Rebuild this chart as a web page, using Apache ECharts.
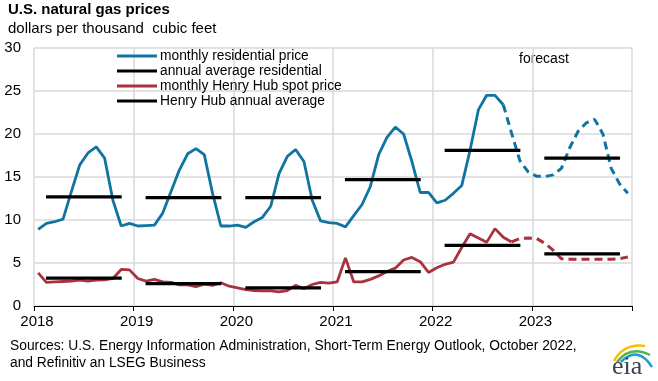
<!DOCTYPE html>
<html><head><meta charset="utf-8">
<script src="https://cdn.jsdelivr.net/npm/echarts@6/dist/echarts.min.js"></script>
<style>html,body{margin:0;padding:0;background:#fff}#c{width:658px;height:381px}</style>
</head><body><div id="c"></div>
<script>
// ---- data ----
const startYear = 2018;
const yearTicks = [2018, 2019, 2020, 2021, 2022, 2023, 2024];
// monthly residential price, Jan 2018 - Dec 2023 (dollars per Mcf)
const residentialMonthly = [
  8.9, 9.6, 9.8, 10.1, 13.3, 16.4, 17.8, 18.5, 17.2, 12.3, 9.3, 9.6,
  9.3, 9.35, 9.4, 10.8, 13.3, 15.8, 17.7, 18.3, 17.6, 13.1, 9.3, 9.3,
  9.4, 9.15, 9.8, 10.3, 11.6, 15.4, 17.4, 18.2, 16.8, 12.3, 9.9, 9.7,
  9.6, 9.2, 10.5, 11.8, 13.9, 17.6, 19.6, 20.8, 20.0, 16.8, 13.2, 13.2,
  12.0, 12.3, 13.1, 14.0, 18.1, 22.8, 24.5, 24.5, 23.4, 20.1, 16.9, 15.6,
  15.1, 15.05, 15.25, 16.0, 18.4, 20.3, 21.3, 21.7, 20.0, 16.0, 14.2, 13.1
];
// monthly Henry Hub spot price, Jan 2018 - Dec 2023
const henryHubMonthly = [
  3.85, 2.75, 2.8, 2.85, 2.9, 3.0, 2.9, 3.0, 3.05, 3.2, 4.25, 4.2,
  3.2, 2.9, 3.1, 2.8, 2.75, 2.45, 2.45, 2.25, 2.55, 2.4, 2.7, 2.3,
  2.1, 1.9, 1.8, 1.75, 1.75, 1.65, 1.8, 2.4, 2.0, 2.5, 2.75, 2.65,
  2.8, 5.6, 2.8, 2.8, 3.1, 3.5, 4.0, 4.4, 5.35, 5.65, 5.15, 3.9,
  4.45, 4.85, 5.1, 6.8, 8.4, 7.9, 7.4, 9.0, 8.0, 7.45, 7.85, 7.9,
  7.85, 7.3, 6.5, 5.5, 5.45, 5.45, 5.45, 5.45, 5.45, 5.45, 5.5, 5.7
];
const residentialLastActual = 56; // index of last historical month
const henryHubLastActual = 57;
const avgYears = [2018, 2019, 2020, 2021, 2022, 2023];
const residentialAnnualAvg = [12.7, 12.6, 12.6, 14.7, 18.1, 17.2];
const henryHubAnnualAvg = [3.25, 2.6, 2.1, 4.0, 7.05, 6.05];
const yTicks = [0, 5, 10, 15, 20, 25, 30];

const names = ['monthly residential price', 'annual average residential', 'monthly Henry Hub spot price', 'Henry Hub annual average'];

// ---- build ----
const FONT = '"Liberation Sans", Arial, sans-serif';
const BLUE = '#0f74a1', RED = '#a8333f', BLACK = '#000';
function monthly(arr, from, to) {
  const out = [];
  for (let i = from; i <= to; i++) out.push([startYear + (i + 0.5) / 12, arr[i]]);
  return out;
}
function annual(vals) {
  const out = [];
  avgYears.forEach((y, i) => { out.push([y + 0.12, vals[i]]); out.push([y + 0.88, vals[i]]); out.push([y + 0.95, null]); });
  return out;
}
const lineBase = { type: 'line', symbol: 'none', showSymbol: false, silent: true, animation: false, connectNulls: false };

const chart = echarts.init(document.getElementById('c'), null, { renderer: 'canvas' });
chart.setOption({
  animation: false,
  textStyle: { fontFamily: FONT },
  title: [
    { text: 'U.S. natural gas prices', left: 8, top: 2, padding: 0, textStyle: { fontFamily: FONT, fontSize: 15, fontWeight: 'bold', color: '#000' } },
    { text: 'dollars per thousand  cubic feet', left: 8, top: 21, padding: 0, textStyle: { fontFamily: FONT, fontSize: 15, fontWeight: 'normal', color: '#000' } }
  ],
  grid: { left: 34, right: 26, top: 48, bottom: 75, containLabel: false },
  legend: {
    data: names.map((n, i) => ({ name: n, icon: 'path://M0,0 L40,0 L40,3 L0,3 Z', itemStyle: { color: [BLUE, BLACK, RED, BLACK][i] } })),
    orient: 'vertical', left: 117, top: 49, itemWidth: 40, itemHeight: 3.5, itemGap: 1, padding: 0,
    textStyle: { fontFamily: FONT, fontSize: 13.8, color: '#000', lineHeight: 14, padding: [0, 0, 0, -2] },
    selectedMode: false
  },
  xAxis: {
    type: 'value', min: 2018, max: 2024, interval: 1,
    axisLine: { show: true, lineStyle: { color: '#000', width: 1 } },
    axisTick: { show: true, length: 5, lineStyle: { color: '#000' } },
    axisLabel: { fontFamily: FONT, fontSize: 15, color: '#000', margin: 8, padding: [0, 0, 0, 6],
      formatter: v => (v === 2024 ? '' : String(v)) },
    splitLine: { show: true, lineStyle: { color: '#d9d9d9', width: 1.5 } }
  },
  yAxis: {
    type: 'value', min: yTicks[0], max: yTicks[yTicks.length - 1], interval: 5,
    axisLine: { show: false }, axisTick: { show: false },
    axisLabel: { fontFamily: FONT, fontSize: 15, color: '#000', margin: 13 },
    splitLine: { show: true, lineStyle: { color: '#d9d9d9', width: 1.5 } }
  },
  graphic: [
    { type: 'text', left: 519, top: 52, style: { text: 'forecast', font: '14px ' + FONT, fill: '#000' } },
    { type: 'text', left: 10, top: 338, style: { text: 'Sources: U.S. Energy Information Administration, Short-Term Energy Outlook, October 2022,\nand Refinitiv an LSEG Business', font: '13.8px ' + FONT, fill: '#000', lineHeight: 17 } },
    { type: 'bezierCurve', z: 1, shape: { x1: 614, y1: 361, cpx1: 624, cpy1: 343, x2: 645, y2: 346 }, style: { stroke: '#f2c200', lineWidth: 2.5, fill: null } },
    { type: 'bezierCurve', z: 1, shape: { x1: 617, y1: 362, cpx1: 630, cpy1: 345, x2: 650, y2: 355 }, style: { stroke: '#56b146', lineWidth: 2.5, fill: null } },
    { type: 'bezierCurve', z: 1, shape: { x1: 621, y1: 362, cpx1: 638, cpy1: 345, x2: 652, y2: 367 }, style: { stroke: '#1a9ad6', lineWidth: 2.5, fill: null } },
    { type: 'text', z: 10, left: 612, top: 354, style: { text: 'eia', font: '26px "Liberation Serif", "DejaVu Serif", serif', fill: '#3a4350' } }
  ],
  series: [
    Object.assign({}, lineBase, { name: names[0], data: monthly(residentialMonthly, 0, residentialLastActual), lineStyle: { color: BLUE, width: 2.8 }, itemStyle: { color: BLUE }, z: 2 }),
    Object.assign({}, lineBase, { name: 'res_fc', data: monthly(residentialMonthly, residentialLastActual, residentialMonthly.length - 1), lineStyle: { color: BLUE, width: 3, type: [8, 5] }, itemStyle: { color: BLUE }, z: 2 }),
    Object.assign({}, lineBase, { name: names[1], data: annual(residentialAnnualAvg), lineStyle: { color: BLACK, width: 3.2 }, itemStyle: { color: BLACK }, z: 3 }),
    Object.assign({}, lineBase, { name: names[2], data: monthly(henryHubMonthly, 0, henryHubLastActual), lineStyle: { color: RED, width: 2.8 }, itemStyle: { color: RED }, z: 4 }),
    Object.assign({}, lineBase, { name: 'hh_fc', data: monthly(henryHubMonthly, henryHubLastActual, henryHubMonthly.length - 1), lineStyle: { color: RED, width: 3, type: [8, 5] }, itemStyle: { color: RED }, z: 4 }),
    Object.assign({}, lineBase, { name: names[3], data: annual(henryHubAnnualAvg), lineStyle: { color: BLACK, width: 3.2 }, itemStyle: { color: BLACK }, z: 5 })
  ]
});
</script></body></html>
